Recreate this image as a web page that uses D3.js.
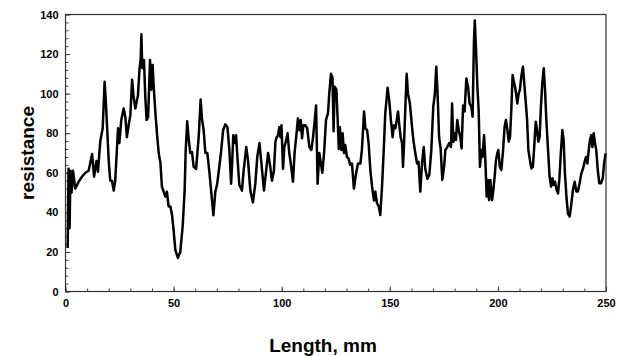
<!DOCTYPE html>
<html>
<head>
<meta charset="utf-8">
<script src="https://cdn.jsdelivr.net/npm/d3@7"></script>
<style>
	body { margin: 0; background: #fff; }
	svg { display: block; font-family: "Liberation Sans", Arial, sans-serif; }
	.tick text { font-size: 11px; font-weight: bold; fill: #000; }
	.axis-title { font-size: 19px; font-weight: bold; fill: #000; }
</style>
</head>
<body>
<svg id="chart" width="617" height="356"></svg>
<script>
// length along the sample, mm
const lengths = [
	1.0, 1.4, 1.9, 2.3, 2.8, 3.5, 4.5, 6.1, 7.6, 9.2, 10.7, 12.3, 13.2, 14.3, 15.0, 16.1, 17.2, 18.1, 18.7,
	20.0, 20.7, 21.5, 22.3, 23.0, 24.3, 24.9, 25.8, 26.9, 27.7, 28.4, 29.2, 30.0, 30.8, 31.5, 32.3, 33.5,
	34.2, 34.8, 35.1, 35.5, 36.3, 36.9, 37.5, 38.2, 39.1, 39.7, 40.3, 40.8, 41.6, 42.3, 43.1, 43.9, 44.6,
	45.4, 46.2, 46.9, 47.7, 48.5, 49.3, 50.0, 50.8, 52.0, 53.1, 54.2, 55.1, 55.6, 56.3, 56.9, 57.7, 58.5,
	59.3, 60.4, 61.6, 62.5, 63.1, 63.9, 64.7, 65.6, 66.5, 67.4, 68.4, 69.3, 70.1, 70.8, 71.9, 72.9, 73.9,
	74.9, 75.8, 76.6, 77.2, 77.6, 78.2, 78.9, 79.5, 80.4, 81.6, 82.4, 83.6, 84.4, 85.5, 86.7, 87.8, 88.7,
	89.7, 90.6, 91.8, 92.8, 93.7, 94.6, 95.5, 96.4, 97.1, 97.7, 98.3, 98.9, 99.4, 99.9, 100.6, 101.2,
	102.1, 102.7, 103.5, 104.4, 105.2, 106.0, 106.8, 107.5, 108.1, 108.8, 109.4, 110.0, 110.9, 111.8,
	112.8, 113.7, 114.5, 115.3, 115.9, 116.6, 117.4, 118.0, 118.8, 119.6, 120.5, 121.4, 122.0, 122.8,
	123.5, 124.0, 124.5, 125.3, 125.9, 126.4, 126.9, 127.6, 128.2, 128.8, 129.4, 130.2, 130.9, 131.7,
	132.5, 133.4, 134.4, 135.3, 136.4, 137.1, 138.1, 138.7, 139.5, 140.2, 141.0, 141.8, 142.7, 143.3,
	144.1, 144.9, 145.6, 146.4, 147.2, 147.9, 149.0, 149.8, 150.5, 151.3, 151.9, 152.6, 153.2, 153.8,
	154.4, 155.0, 155.7, 156.1, 156.6, 157.2, 157.8, 158.4, 159.3, 160.3, 161.0, 161.8, 162.6, 163.3,
	164.1, 164.9, 165.7, 166.4, 167.4, 168.3, 169.2, 170.1, 170.8, 171.5, 172.1, 172.8, 173.5, 174.3,
	175.1, 175.7, 176.6, 177.5, 178.3, 178.8, 179.4, 180.0, 180.6, 181.2, 181.9, 182.6, 183.2, 183.9,
	184.6, 185.4, 186.2, 186.9, 187.7, 188.3, 188.9, 189.3, 189.9, 190.5, 191.1, 191.7, 192.3, 192.9,
	193.6, 194.2, 194.8, 195.4, 195.9, 196.5, 197.3, 197.9, 198.5, 199.1, 199.7, 200.2, 200.9, 201.6,
	202.4, 203.1, 203.7, 204.4, 205.0, 205.6, 206.2, 206.8, 207.4, 207.9, 208.4, 209.0, 209.6, 210.2,
	210.8, 211.6, 212.2, 212.8, 213.5, 214.1, 214.8, 215.5, 216.2, 216.9, 217.5, 218.1, 218.7, 219.3,
	219.9, 220.5, 221.2, 221.8, 222.4, 223.2, 223.9, 224.6, 225.2, 225.8, 226.4, 227.2, 227.8, 228.4,
	229.0, 229.8, 230.4, 231.0, 231.7, 232.4, 233.2, 233.9, 234.7, 235.5, 236.3, 237.0, 237.8, 238.6,
	239.4, 240.1, 240.7, 241.4, 242.0, 242.6, 243.2, 243.7, 244.3, 244.9, 245.5, 246.2, 246.9, 247.7,
	248.5, 249.1, 249.8
]
const resistance = [
	22, 62, 32, 61, 50, 61, 52, 55.5, 58, 60, 61, 69.5, 58, 66, 60.5, 76, 82.5, 106, 95,
	66, 56, 56, 51, 56, 82.5, 75, 86.7, 92.5, 88, 78, 84, 89, 107, 98.5, 92.5, 99,
	112, 118, 130, 113, 117, 98.5, 86.7, 88, 117, 102, 114.5, 103.5, 90, 80, 70, 65, 53,
	50.5, 48, 50.5, 43, 43, 38.5, 31, 21, 17, 20, 33, 51, 71.5, 86, 78, 70, 70.5,
	63, 62, 78, 97, 87.5, 81.5, 70, 70, 61, 50.5, 38.5, 50.5, 54, 60, 70, 81.5, 84.5,
	83, 71.5, 54.5, 68, 79, 75, 79, 68, 54, 51, 61, 73, 66.5, 51, 45, 54.5, 68,
	75, 65, 51, 61, 70, 64, 56, 61, 75.7, 78, 79, 83, 78, 84, 62, 73,
	76.5, 80, 70, 63, 55.5, 70.7, 79, 87.5, 81.5, 86.7, 77.4, 84, 84, 82.5,
	73, 71.5, 78, 86.7, 94, 54.5, 70, 65.5, 60, 70, 86.7, 90, 100, 110,
	108, 81, 103.5, 102, 86.7, 72, 83, 71.5, 80, 70, 74, 68, 67.3, 64,
	64.7, 52, 59.7, 64.7, 64.7, 71.5, 91, 82.5, 81.6, 75, 61.4, 53, 46, 50.5,
	44.5, 43, 38.7, 53, 71.5, 90, 103, 96, 86.7, 78, 84, 82.5, 86.7, 91,
	84, 78, 75, 63, 75, 93.4, 110, 100, 95, 83, 75.7, 70, 64.7, 65.6,
	50.5, 64.7, 73, 62, 57, 59, 71.5, 93.4, 99.3, 113.6, 100, 78, 72.3, 56.4,
	63, 71.5, 73, 75, 73, 95, 75.7, 80, 76.6, 86.7, 81.6, 78, 72.3, 94,
	91, 107.7, 103.5, 95, 93.4, 88.3, 125.4, 137, 122, 103.5, 91.7, 63, 71.5, 68,
	79, 66.4, 48, 56.4, 46.2, 56.4, 46.2, 51.3, 58, 66.4, 69.8, 71.5, 63, 61.4,
	71.5, 83.3, 86.7, 81.6, 75.7, 78, 91.7, 109.4, 106, 103.5, 100, 95, 100, 102,
	108.5, 113.6, 105, 96.8, 86.7, 71.5, 66.4, 62.2, 63, 75, 85.8, 81.6, 75.7, 78,
	93.4, 105, 112.8, 101.8, 86.7, 71.5, 58, 53, 57.2, 53.8, 55.5, 51.3, 49.6, 56.4,
	68, 81.6, 76.6, 59.7, 48, 39.5, 37.8, 43.7, 51.3, 55.5, 50.5, 50.5, 54.7, 59.7,
	62.2, 65.6, 68, 64.7, 71.5, 76.6, 79, 73, 80, 75, 71.5, 61.4, 54.7, 54.7,
	57.2, 64.7, 69.8
]
const xTicks = [0, 50, 100, 150, 200, 250]
const yTicks = [0, 20, 40, 60, 80, 100, 120, 140]

const margin = {top: 14.5, right: 11, bottom: 64.5, left: 65.5}
const width = 617, height = 356
const plotWidth = width - margin.left - margin.right
const plotHeight = height - margin.top - margin.bottom

const svg = d3.select("#chart")
const plot = svg.append("g")
	.attr("transform", "translate(" + margin.left + "," + margin.top + ")")

const x = d3.scaleLinear().domain([0, 250]).range([0, plotWidth])
const y = d3.scaleLinear().domain([0, 140]).range([plotHeight, 0])

// minor ticks, drawn inward
plot.append("g")
	.attr("transform", "translate(0," + plotHeight + ")")
	.call(d3.axisTop(x).tickValues(d3.range(0, 251, 10)).tickSize(3).tickFormat(""))
	.call(g => g.select(".domain").remove())
plot.append("g")
	.call(d3.axisRight(y).tickValues(d3.range(0, 141, 4)).tickSize(3).tickFormat(""))
	.call(g => g.select(".domain").remove())

// major ticks with labels
plot.append("g")
	.attr("class", "axis axis--x")
	.attr("transform", "translate(0," + plotHeight + ")")
	.call(d3.axisTop(x).tickValues(xTicks).tickSize(5))
	.call(g => g.select(".domain").remove())
	.call(g => g.selectAll(".tick text").attr("y", 8).attr("dy", "0.71em"))
plot.append("g")
	.attr("class", "axis axis--y")
	.call(d3.axisRight(y).tickValues(yTicks).tickSize(5))
	.call(g => g.select(".domain").remove())
	.call(g => g.selectAll(".tick text").attr("x", -7).attr("text-anchor", "end"))

plot.selectAll(".tick line").attr("stroke", "#444")

// frame
plot.append("rect")
	.attr("width", plotWidth)
	.attr("height", plotHeight)
	.attr("fill", "none")
	.attr("stroke", "#333")
	.attr("stroke-width", 1.2)

const line = d3.line()
	.x((d, i) => x(lengths[i]))
	.y(d => y(d))
plot.append("path")
	.datum(resistance)
	.attr("fill", "none")
	.attr("stroke", "black")
	.attr("stroke-width", 2.5)
	.attr("stroke-linejoin", "round")
	.attr("d", line)

svg.append("text")
	.attr("class", "axis-title")
	.attr("x", 323)
	.attr("y", 352)
	.attr("text-anchor", "middle")
	.text("Length, mm")
svg.append("text")
	.attr("class", "axis-title")
	.attr("transform", "translate(34," + (margin.top + plotHeight / 2) + ") rotate(-90)")
	.attr("text-anchor", "middle")
	.text("resistance")
</script>
</body>
</html>
